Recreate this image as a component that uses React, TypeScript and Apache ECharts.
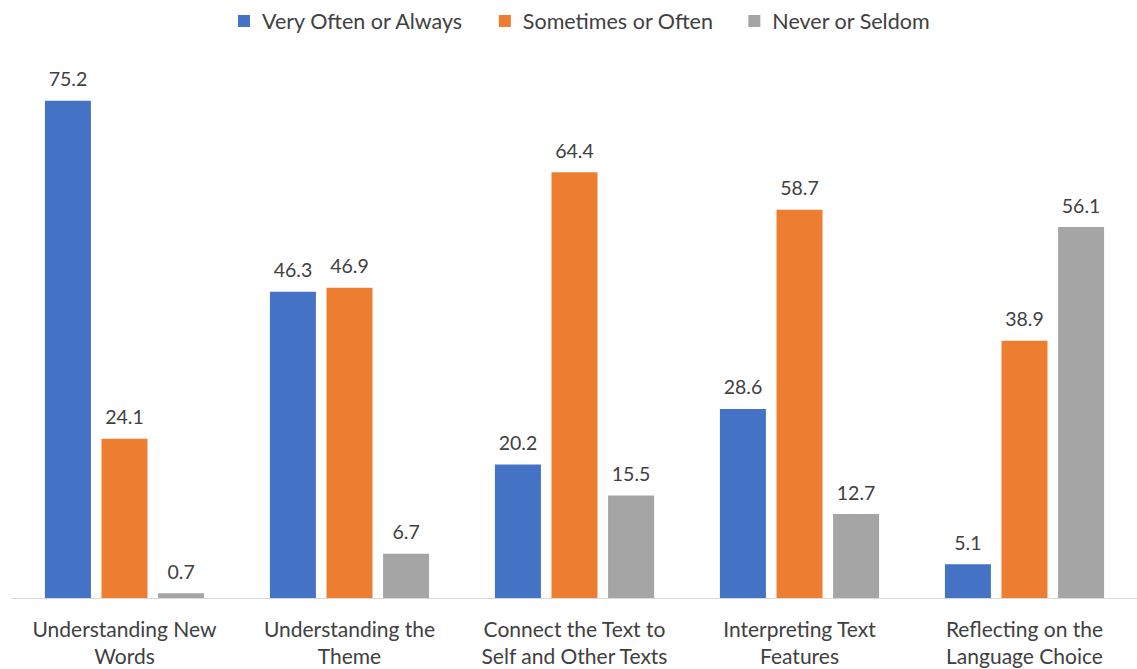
import React, { useEffect, useRef } from "react";
import * as echarts from "echarts";

const categories = [
  "Understanding New\nWords",
  "Understanding the\nTheme",
  "Connect the Text to\nSelf and Other Texts",
  "Interpreting Text\nFeatures",
  "Reflecting on the\nLanguage Choice",
];
const seriesNames = ["Very Often or Always", "Sometimes or Often", "Never or Seldom"];
const veryOften = [75.2, 46.3, 20.2, 28.6, 5.1];
const sometimes = [24.1, 46.9, 64.4, 58.7, 38.9];
const never = [0.7, 6.7, 15.5, 12.7, 56.1];
const colors = ["#4472C4", "#ED7D31", "#A5A5A5"];

export default function App() {
  const ref = useRef<HTMLDivElement>(null);
  useEffect(() => {
    if (!ref.current) return;
    const chart = echarts.init(ref.current, null, { renderer: "svg" });
    const font = "Lato, 'Open Sans', sans-serif";
    const mk = (name: string, data: number[], color: string) => ({
      name,
      type: "bar",
      data,
      barWidth: 46,
      barGap: "23%",
      itemStyle: { color },
      label: {
        show: true,
        position: "top",
        distance: 12,
        color: "#404040",
        fontSize: 19.5,
        fontFamily: font,
      },
    });
    chart.setOption({
      animation: false,
      textStyle: { fontFamily: font },
      legend: {
        top: 5,
        left: 233,
        itemWidth: 12,
        itemHeight: 12,
        itemGap: 35,
        icon: "rect",
        textStyle: {
          fontSize: 21.5,
          color: "#404040",
          fontFamily: font,
          padding: [0, 0, 0, 7],
        },
        data: seriesNames,
      },
      grid: { left: 12, top: 69, width: 1138, height: 529, containLabel: false },
      xAxis: {
        type: "category",
        data: categories,
        axisLine: { lineStyle: { color: "#D9D9D9", width: 1 } },
        axisTick: { show: false },
        axisLabel: {
          color: "#404040",
          fontSize: 21,
          lineHeight: 27,
          margin: 17,
          fontFamily: font,
          interval: 0,
        },
      },
      yAxis: {
        type: "value",
        min: 0,
        max: 80,
        show: false,
        splitLine: { show: false },
      },
      series: [
        mk(seriesNames[0], veryOften, colors[0]),
        mk(seriesNames[1], sometimes, colors[1]),
        mk(seriesNames[2], never, colors[2]),
      ],
    });
    return () => chart.dispose();
  }, []);
  return (
    <div
      ref={ref}
      style={{ position: "fixed", left: 0, top: 0, width: 1137, height: 669, background: "#fff" }}
    />
  );
}
